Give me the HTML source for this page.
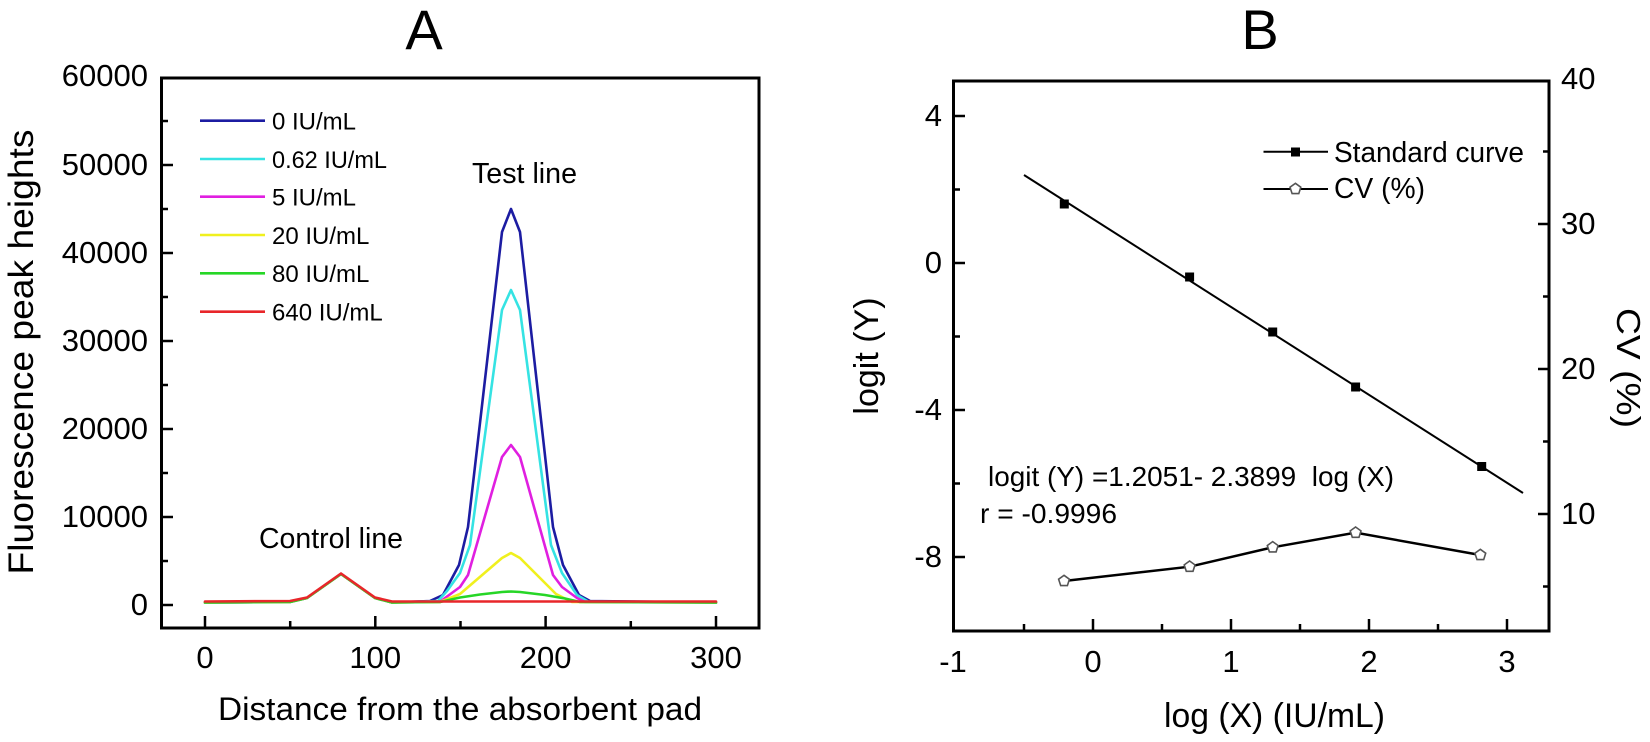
<!DOCTYPE html>
<html>
<head>
<meta charset="utf-8">
<style>
  html,body{margin:0;padding:0;background:#fff;}
  svg{display:block;}
  text{font-family:"Liberation Sans", Arial, sans-serif; fill:#000;}
</style>
</head>
<body>
<svg width="1650" height="742" viewBox="0 0 1650 742" xmlns="http://www.w3.org/2000/svg">
  <rect x="0" y="0" width="1650" height="742" fill="#fff"/>

  <!-- ================= PANEL A ================= -->
  <text x="424" y="49" font-size="56" text-anchor="middle">A</text>

  <!-- curves -->
  <g fill="none" stroke-width="2.6" stroke-linejoin="round" stroke-linecap="round">
    <path stroke="#1c1ca2" d="M205,602.5 L290,602 L307,598 L341,574 L375,598 L392,602.5 L430,601 L443,595 L459,565 L468,527 L502,232 L511,209 L520,232 L553,527 L563,565 L579,595 L590,601 L716,602.5"/>
    <path stroke="#35e3e3" d="M205,602.5 L290,602 L307,598 L341,574 L375,598 L392,602.5 L438,601 L447,591 L460,573 L470,545 L502,310 L511,290 L520,310 L551,545 L562,573 L577,595 L588,601.5 L716,602.5"/>
    <path stroke="#e01fe0" d="M205,602.5 L290,602 L307,598 L341,574 L375,598 L392,602.5 L440,602 L445,598 L460,587 L468,575 L502,457 L511,445 L520,457 L553,575 L562,587 L577,598 L585,602 L716,602.5"/>
    <path stroke="#f0f01e" d="M205,602.5 L290,602 L307,598 L341,574 L375,598 L392,602.5 L440,602 L460,594 L502,558 L511,553 L520,558 L556,594 L572,602 L716,602.5"/>
    <path stroke="#26d626" d="M205,602.5 L290,602 L307,598 L341,574 L375,598 L392,602.5 L440,602 L460,597.5 L480,594.5 L502,592 L511,591.5 L520,592 L545,595 L565,598.5 L580,602 L716,602.5"/>
    <path stroke="#e8262a" d="M205,601.5 L290,601 L307,597.5 L341,573.5 L375,597.5 L392,601.5 L716,601.5"/>
  </g>

  <!-- frame A -->
  <rect x="161.5" y="78" width="597.5" height="550" fill="none" stroke="#000" stroke-width="3"/>

  <!-- y ticks A -->
  <g stroke="#000" stroke-width="2.5">
    <line x1="161" y1="605" x2="173" y2="605"/>
    <line x1="161" y1="561" x2="168" y2="561"/>
    <line x1="161" y1="517" x2="173" y2="517"/>
    <line x1="161" y1="473" x2="168" y2="473"/>
    <line x1="161" y1="429" x2="173" y2="429"/>
    <line x1="161" y1="385" x2="168" y2="385"/>
    <line x1="161" y1="341" x2="173" y2="341"/>
    <line x1="161" y1="297" x2="168" y2="297"/>
    <line x1="161" y1="253" x2="173" y2="253"/>
    <line x1="161" y1="209" x2="168" y2="209"/>
    <line x1="161" y1="165" x2="173" y2="165"/>
    <line x1="161" y1="121" x2="168" y2="121"/>
    <!-- x ticks A -->
    <line x1="205" y1="628" x2="205" y2="616"/>
    <line x1="290.2" y1="628" x2="290.2" y2="621"/>
    <line x1="375.3" y1="628" x2="375.3" y2="616"/>
    <line x1="460.5" y1="628" x2="460.5" y2="621"/>
    <line x1="545.6" y1="628" x2="545.6" y2="616"/>
    <line x1="630.8" y1="628" x2="630.8" y2="621"/>
    <line x1="716" y1="628" x2="716" y2="616"/>
  </g>

  <!-- y labels A -->
  <g font-size="31" text-anchor="end">
    <text x="148" y="615">0</text>
    <text x="148" y="527">10000</text>
    <text x="148" y="439">20000</text>
    <text x="148" y="351">30000</text>
    <text x="148" y="263">40000</text>
    <text x="148" y="175">50000</text>
    <text x="148" y="86">60000</text>
  </g>
  <!-- x labels A -->
  <g font-size="31" text-anchor="middle">
    <text x="205" y="668">0</text>
    <text x="375.3" y="668">100</text>
    <text x="545.6" y="668">200</text>
    <text x="716" y="668">300</text>
  </g>

  <text x="218" y="720" font-size="32" textLength="484" lengthAdjust="spacingAndGlyphs">Distance from the absorbent pad</text>
  <text transform="translate(33,352) rotate(-90)" x="0" y="0" font-size="35" text-anchor="middle" textLength="445" lengthAdjust="spacingAndGlyphs">Fluorescence peak heights</text>

  <!-- annotations A -->
  <text x="472" y="183" font-size="29" textLength="105" lengthAdjust="spacingAndGlyphs">Test line</text>
  <text x="259" y="548" font-size="29" textLength="144" lengthAdjust="spacingAndGlyphs">Control line</text>

  <!-- legend A -->
  <g stroke-width="2.6">
    <line x1="200" y1="120.7" x2="265" y2="120.7" stroke="#1c1ca2"/>
    <line x1="200" y1="159" x2="265" y2="159" stroke="#35e3e3"/>
    <line x1="200" y1="196.7" x2="265" y2="196.7" stroke="#e01fe0"/>
    <line x1="200" y1="235" x2="265" y2="235" stroke="#f0f01e"/>
    <line x1="200" y1="273.3" x2="265" y2="273.3" stroke="#26d626"/>
    <line x1="200" y1="311.7" x2="265" y2="311.7" stroke="#e8262a"/>
  </g>
  <g font-size="24">
    <text x="272" y="129.5">0 IU/mL</text>
    <text x="272" y="167.8" textLength="115" lengthAdjust="spacingAndGlyphs">0.62 IU/mL</text>
    <text x="272" y="205.5">5 IU/mL</text>
    <text x="272" y="243.8">20 IU/mL</text>
    <text x="272" y="282.1">80 IU/mL</text>
    <text x="272" y="320.5">640 IU/mL</text>
  </g>

  <!-- ================= PANEL B ================= -->
  <text x="1260" y="49" font-size="56" text-anchor="middle">B</text>

  <!-- standard curve line -->
  <line x1="1024" y1="175" x2="1523" y2="493" stroke="#000" stroke-width="2"/>
  <g fill="#000">
    <rect x="1059.8" y="199.5" width="9" height="9"/>
    <rect x="1185.1" y="272.5" width="9" height="9"/>
    <rect x="1268.2" y="327.5" width="9" height="9"/>
    <rect x="1351.1" y="382.5" width="9" height="9"/>
    <rect x="1477.2" y="462" width="9" height="9"/>
  </g>

  <!-- CV line -->
  <polyline fill="none" stroke="#000" stroke-width="2.5" points="1064,581 1189.6,566.7 1272.7,547.3 1355.6,532.7 1480.3,555"/>
  <g fill="#fff" stroke="#555" stroke-width="1.6">
    <polygon points="1064,575.3 1069.4,579.2 1067.4,585.6 1060.7,585.6 1058.6,579.2"/>
    <polygon points="1189.6,561 1195,564.9 1193,571.3 1186.3,571.3 1184.2,564.9"/>
    <polygon points="1272.7,541.6 1278.1,545.5 1276.1,551.9 1269.4,551.9 1267.3,545.5"/>
    <polygon points="1355.6,527 1361,530.9 1359,537.3 1352.3,537.3 1350.2,530.9"/>
    <polygon points="1480.3,549.3 1485.7,553.2 1483.7,559.6 1477,559.6 1474.9,553.2"/>
  </g>

  <!-- frame B -->
  <rect x="953.5" y="81" width="595.5" height="550" fill="none" stroke="#000" stroke-width="3"/>

  <g stroke="#000" stroke-width="2.5">
    <!-- left ticks -->
    <line x1="953" y1="116" x2="965" y2="116"/>
    <line x1="953" y1="189.5" x2="960" y2="189.5"/>
    <line x1="953" y1="263" x2="965" y2="263"/>
    <line x1="953" y1="336.5" x2="960" y2="336.5"/>
    <line x1="953" y1="410" x2="965" y2="410"/>
    <line x1="953" y1="483.5" x2="960" y2="483.5"/>
    <line x1="953" y1="557" x2="965" y2="557"/>
    <!-- bottom ticks -->
    <line x1="1024" y1="631" x2="1024" y2="624"/>
    <line x1="1093" y1="631" x2="1093" y2="619"/>
    <line x1="1162" y1="631" x2="1162" y2="624"/>
    <line x1="1231" y1="631" x2="1231" y2="619"/>
    <line x1="1300" y1="631" x2="1300" y2="624"/>
    <line x1="1369" y1="631" x2="1369" y2="619"/>
    <line x1="1438" y1="631" x2="1438" y2="624"/>
    <line x1="1507" y1="631" x2="1507" y2="619"/>
    <!-- right ticks -->
    <line x1="1549" y1="151.5" x2="1543" y2="151.5"/>
    <line x1="1549" y1="224" x2="1538" y2="224"/>
    <line x1="1549" y1="296.5" x2="1543" y2="296.5"/>
    <line x1="1549" y1="369" x2="1538" y2="369"/>
    <line x1="1549" y1="441.5" x2="1543" y2="441.5"/>
    <line x1="1549" y1="514" x2="1538" y2="514"/>
    <line x1="1549" y1="586.5" x2="1543" y2="586.5"/>
  </g>

  <!-- left labels B -->
  <g font-size="31" text-anchor="end">
    <text x="942" y="126">4</text>
    <text x="942" y="273">0</text>
    <text x="942" y="420">-4</text>
    <text x="942" y="567">-8</text>
  </g>
  <!-- bottom labels B -->
  <g font-size="31" text-anchor="middle">
    <text x="953" y="672">-1</text>
    <text x="1093" y="672">0</text>
    <text x="1231" y="672">1</text>
    <text x="1369" y="672">2</text>
    <text x="1507" y="672">3</text>
  </g>
  <!-- right labels B -->
  <g font-size="31">
    <text x="1561" y="89">40</text>
    <text x="1561" y="234">30</text>
    <text x="1561" y="379">20</text>
    <text x="1561" y="524">10</text>
  </g>

  <text x="1164" y="727" font-size="34" textLength="221" lengthAdjust="spacingAndGlyphs">log (X) (IU/mL)</text>
  <text transform="translate(878,356) rotate(-90)" x="0" y="0" font-size="34" text-anchor="middle">logit (Y)</text>
  <text transform="translate(1617,368) rotate(90)" x="0" y="0" font-size="33" text-anchor="middle" textLength="120" lengthAdjust="spacingAndGlyphs">CV (%)</text>

  <!-- equation -->
  <text x="988" y="486" font-size="28" textLength="406" lengthAdjust="spacingAndGlyphs" xml:space="preserve">logit (Y) =1.2051- 2.3899  log (X)</text>
  <text x="980" y="523" font-size="28" textLength="137" lengthAdjust="spacingAndGlyphs">r = -0.9996</text>

  <!-- legend B -->
  <line x1="1263.5" y1="151.7" x2="1328" y2="151.7" stroke="#000" stroke-width="2"/>
  <rect x="1291" y="147.5" width="9" height="9" fill="#000"/>
  <line x1="1263.5" y1="189" x2="1328" y2="189" stroke="#000" stroke-width="2"/>
  <polygon points="1295.4,183.3 1300.8,187.2 1298.8,193.6 1292.1,193.6 1290,187.2" fill="#fff" stroke="#555" stroke-width="1.6"/>
  <text x="1334" y="162" font-size="29" textLength="190" lengthAdjust="spacingAndGlyphs">Standard curve</text>
  <text x="1334" y="198" font-size="29" textLength="91" lengthAdjust="spacingAndGlyphs">CV (%)</text>
</svg>
</body>
</html>
